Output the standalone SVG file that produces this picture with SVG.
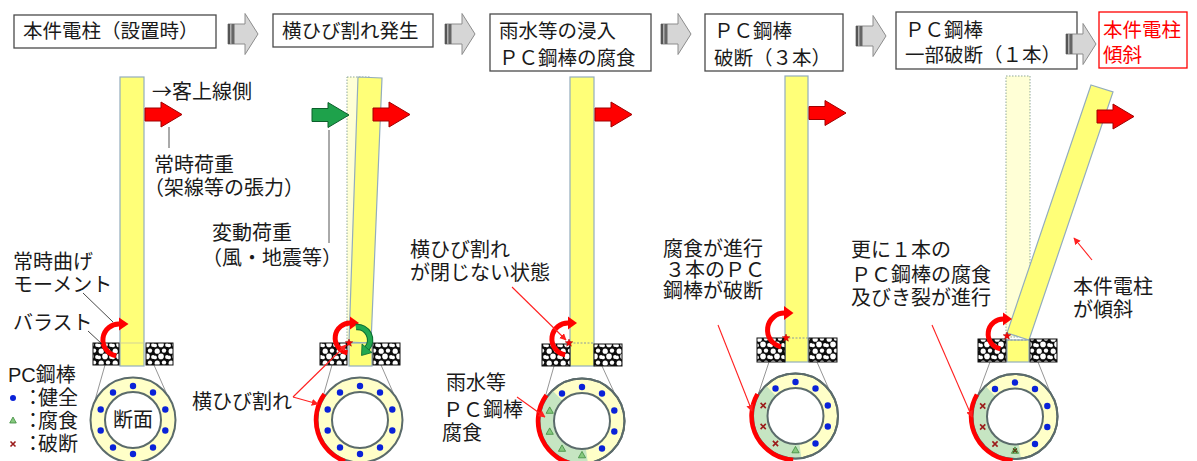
<svg xmlns="http://www.w3.org/2000/svg" xmlns:xlink="http://www.w3.org/1999/xlink" width="1197" height="461" viewBox="0 0 1197 461">
  <style>
    .t { font-family: "Noto Sans CJK JP", "Noto Sans CJK SC", sans-serif; font-size: 20px; fill: #1a1a1a; }
    .h { font-size: 19.5px; }
    .red { fill: #ff0000; }
    .box { fill: #ffffff; stroke: #4a4a4a; stroke-width: 1.3; }
    .pole { fill: #ffff78; stroke: #93adbd; stroke-width: 1.2; }
    .ghost { fill: #ffffd6; stroke: #8fa89a; stroke-width: 1; stroke-dasharray: 1.5 1.5; }
    .ballast { fill: url(#gravel); stroke: #111; stroke-width: 1; }
    .guide { stroke: #7a7a7a; stroke-width: 0.8; fill: none; }
    .ring { fill: #ffffc8; stroke: #5b6b6b; stroke-width: 2; }
    .hole { fill: #ffffff; stroke: #5b6b6b; stroke-width: 2; }
    .wet { fill: #c6e5c2; }
    .dot { fill: #0a22d8; }
    .tri { fill: #86c97e; stroke: #3e8a3e; stroke-width: 0.8; }
    .brk { stroke: #9b1b1b; stroke-width: 1.6; fill: none; }
    .crackArc { fill: none; stroke: #ff0000; stroke-width: 4.5; }
    .moment { fill: none; stroke: #ff0000; stroke-width: 5; }
    .leader { stroke: #ff2020; stroke-width: 1.1; fill: none; }
    .crack { stroke: #8a9aa0; stroke-width: 1; stroke-dasharray: 2 1.5; }
  </style>
  <defs>
    <pattern id="gravel" width="14" height="12" patternUnits="userSpaceOnUse">
      <rect width="14" height="12" fill="#0d0d0d"/>
      <circle cx="3.2" cy="3.2" r="2.6" fill="#fff"/>
      <circle cx="10" cy="2.6" r="2.2" fill="#fff"/>
      <circle cx="7" cy="8.4" r="2.8" fill="#fff"/>
      <circle cx="1" cy="9.4" r="1.9" fill="#fff"/>
      <circle cx="13" cy="9" r="1.9" fill="#fff"/>
    </pattern>
    <!-- grey step arrow used between header boxes -->
    <g id="stepArrow">
      <polygon points="0,-10 17,-10 17,-20.5 30,0 17,20.5 17,10 0,10" fill="#d6d6d6" stroke="#8c8c8c" stroke-width="1"/>
      <rect x="0" y="-10" width="2" height="20" fill="#555"/>
      <rect x="2.5" y="-10" width="1.5" height="20" fill="#8a8a8a"/>
      <rect x="4" y="-10" width="2.5" height="20" fill="#666"/>
    </g>
    <!-- load arrows -->
    <polygon id="loadArrow" points="0,-6.5 16,-6.5 16,-12.5 37,0 16,12.5 16,6.5 0,6.5"/>
    <polygon id="star" points="0,-4 1,-1.4 3.8,-1.2 1.6,0.5 2.4,3.2 0,1.7 -2.4,3.2 -1.6,0.5 -3.8,-1.2 -1,-1.4" fill="#ff0000" stroke="#a00000" stroke-width="0.5"/>
    <circle id="d" r="3.2" class="dot"/>
    <polygon id="tr" points="0,-3.6 3.6,2.8 -3.6,2.8" class="tri"/>
    <path id="x" d="M-2.6-2.6L2.6 2.6M2.6-2.6L-2.6 2.6" class="brk"/>
    <marker id="rh" viewBox="0 0 10 10" refX="9" refY="5" markerWidth="7" markerHeight="7" orient="auto" markerUnits="userSpaceOnUse">
      <path d="M0,0 L10,5 L0,10 Z" fill="#ff2020"/>
    </marker>
  </defs>

  <!-- header flow -->
  <g id="step1">
    <rect class="box" x="14" y="15" width="202" height="33"/>
    <text class="t h" x="23" y="38">本件電柱（設置時）</text>
  </g>
  <g id="step2">
    <rect class="box" x="273" y="14" width="160" height="33"/>
    <text class="t h" x="282" y="38">横ひび割れ発生</text>
  </g>
  <g id="step3">
    <rect class="box" x="490" y="14" width="161" height="57"/>
    <text class="t h" x="499" y="38">雨水等の浸入</text>
    <text class="t h" x="499" y="65">ＰＣ鋼棒の腐食</text>
  </g>
  <g id="step4">
    <rect class="box" x="705" y="14" width="138" height="57"/>
    <text class="t h" x="714" y="38">ＰＣ鋼棒</text>
    <text class="t h" x="714" y="65">破断（３本）</text>
  </g>
  <g id="step5">
    <rect class="box" x="896" y="12" width="181" height="57"/>
    <text class="t h" x="905" y="37">ＰＣ鋼棒</text>
    <text class="t h" x="905" y="62">一部破断（１本）</text>
  </g>
  <g id="step6">
    <rect class="box" x="1099" y="12" width="88" height="56" style="stroke:#ff0000"/>
    <text class="t h red" x="1103" y="37">本件電柱</text>
    <text class="t h red" x="1103" y="62">傾斜</text>
  </g>
  <g id="connectors">
    <use xlink:href="#stepArrow" x="228" y="34"/>
    <use xlink:href="#stepArrow" x="445" y="34"/>
    <use xlink:href="#stepArrow" x="661" y="34"/>
    <use xlink:href="#stepArrow" x="856" y="36"/>
    <use xlink:href="#stepArrow" x="1066" y="44"/>
  </g>

  <!-- panel 1: pole as installed -->
  <g id="pole1">
    <line class="guide" x1="105" y1="365" x2="94.5" y2="402"/>
    <line class="guide" x1="154" y1="365" x2="174.9" y2="412.6"/>
    <rect class="pole" x="120" y="77" width="24" height="289"/>
    <line x1="120" y1="343" x2="144" y2="343" stroke="#c8c8a0" stroke-width="0.8"/>
    <rect class="ballast" x="93" y="343" width="26" height="22"/>
    <rect class="ballast" x="146" y="343" width="27" height="22"/>
    <use xlink:href="#loadArrow" x="145" y="114.5" fill="#ff0000" stroke="#a00000" stroke-width="1"/>
    <line x1="169" y1="127" x2="169" y2="148" stroke="#555" stroke-width="1"/>
    <path class="moment" d="M116.2 355.8 A16 16 0 0 1 120.4 324.1"/>
    <polygon points="119,317.5 119,330.5 128.5,324" fill="#ff0000"/>
    <line x1="83" y1="293" x2="113" y2="322" stroke="#333" stroke-width="0.9"/>
    <line x1="88" y1="331" x2="102" y2="344" stroke="#333" stroke-width="0.9"/>
    <g transform="translate(133,420)">
      <circle class="ring" r="42.5"/>
      <circle class="hole" r="28"/>
      <use xlink:href="#d" x="0" y="-34"/><use xlink:href="#d" x="20" y="-27.5"/>
      <use xlink:href="#d" x="32.3" y="-10.5"/><use xlink:href="#d" x="32.3" y="10.5"/>
      <use xlink:href="#d" x="20" y="27.5"/><use xlink:href="#d" x="0" y="34"/>
      <use xlink:href="#d" x="-20" y="27.5"/><use xlink:href="#d" x="-32.3" y="10.5"/>
      <use xlink:href="#d" x="-32.3" y="-10.5"/><use xlink:href="#d" x="-20" y="-27.5"/>
      <text class="t" x="0" y="7" text-anchor="middle">断面</text>
    </g>
    <text class="t" x="152" y="99">→客上線側</text>
    <text class="t" x="154" y="172">常時荷重</text>
    <text class="t" x="144" y="195">（架線等の張力）</text>
    <text class="t" x="13" y="269">常時曲げ</text>
    <text class="t" x="13" y="292">モーメント</text>
    <text class="t" x="13" y="330">バラスト</text>
  </g>

  <!-- legend -->
  <g id="legend">
    <text class="t" x="8" y="382" style="font-family:'Liberation Sans','Noto Sans CJK JP',sans-serif">PC<tspan style="font-family:'Noto Sans CJK JP',sans-serif">鋼棒</tspan></text>
    <circle cx="13" cy="398" r="3" class="dot"/>
    <text class="t" y="405"><tspan x="23">：</tspan><tspan x="38">健全</tspan></text>
    <polygon points="13,417 16.3,423 9.7,423" class="tri"/>
    <text class="t" y="428"><tspan x="23">：</tspan><tspan x="38">腐食</tspan></text>
    <path d="M10.5 441.5L15.5 446.5M15.5 441.5L10.5 446.5" class="brk"/>
    <text class="t" y="451"><tspan x="23">：</tspan><tspan x="38">破断</tspan></text>
  </g>

  <!-- panel 2: horizontal crack -->
  <g id="pole2">
    <line class="guide" x1="332" y1="365" x2="321.5" y2="402"/>
    <line class="guide" x1="381" y1="365" x2="401.9" y2="412.6"/>
    <rect class="ghost" x="347" y="77" width="24" height="266"/>
    <polygon class="pole" points="358,77 382,78 371,343 349,342"/>
    <rect class="pole" x="349" y="343" width="23" height="23"/>
    <rect class="ballast" x="320" y="343" width="27" height="22"/>
    <rect class="ballast" x="373" y="343" width="27" height="22"/>
    <use xlink:href="#loadArrow" x="312" y="115" fill="#1ea24b" stroke="#0b5f2b" stroke-width="1"/>
    <use xlink:href="#loadArrow" x="373" y="114.5" fill="#ff0000" stroke="#a00000" stroke-width="1"/>
    <line x1="329" y1="130" x2="329" y2="243" stroke="#555" stroke-width="1"/>
    <path class="moment" d="M347.4 352.8 A15 15 0 0 1 351.3 323.1"/>
    <polygon points="350,316.5 350,329.5 359,323" fill="#ff0000"/>
    <path d="M355.9 327 A13 13 0 0 1 367 348.4" fill="none" stroke="#0b6b30" stroke-width="6.5"/>
    <path d="M355.9 327 A13 13 0 0 1 367 348.4" fill="none" stroke="#22a84f" stroke-width="4.5"/>
    <polygon points="372,352.5 362,344 361.5,355.5" fill="#22a84f" stroke="#0b6b30" stroke-width="0.8"/>
    <use xlink:href="#star" x="349" y="343"/>
    <g transform="translate(360,420)">
      <circle class="ring" r="42.5"/>
      <circle class="hole" r="28"/>
      <use xlink:href="#d" x="0" y="-34"/><use xlink:href="#d" x="20" y="-27.5"/>
      <use xlink:href="#d" x="32.3" y="-10.5"/><use xlink:href="#d" x="32.3" y="10.5"/>
      <use xlink:href="#d" x="20" y="27.5"/><use xlink:href="#d" x="0" y="34"/>
      <use xlink:href="#d" x="-20" y="27.5"/><use xlink:href="#d" x="-32.3" y="10.5"/>
      <use xlink:href="#d" x="-32.3" y="-10.5"/><use xlink:href="#d" x="-20" y="-27.5"/>
      <path class="crackArc" d="M-35.6 -25.9 A44 44 0 0 0 -15 41.3"/>
    </g>
    <line class="leader" x1="293" y1="397" x2="346" y2="345" marker-end="url(#rh)"/>
    <line class="leader" x1="293" y1="397" x2="318" y2="404" marker-end="url(#rh)"/>
    <text class="t" x="212" y="240">変動荷重</text>
    <text class="t" x="202" y="265">（風・地震等）</text>
    <text class="t" x="192" y="409">横ひび割れ</text>
  </g>

  <!-- panel 3: rainwater ingress, corrosion -->
  <g id="pole3">
    <line class="guide" x1="554" y1="366" x2="543.5" y2="403"/>
    <line class="guide" x1="602" y1="366" x2="623.9" y2="413.6"/>
    <rect class="pole" x="570" y="77" width="24" height="289"/>
    <line class="crack" x1="570" y1="343" x2="594" y2="343"/>
    <rect class="ballast" x="542" y="344" width="28" height="22"/>
    <rect class="ballast" x="594" y="344" width="28" height="22"/>
    <use xlink:href="#loadArrow" x="595" y="114.5" fill="#ff0000" stroke="#a00000" stroke-width="1"/>
    <path class="moment" d="M565.2 354.8 A16 16 0 0 1 569.4 323.1"/>
    <polygon points="568,316.5 568,329.5 577,323" fill="#ff0000"/>
    <use xlink:href="#star" x="569" y="343"/>
    <g transform="translate(582,421)">
      <circle class="ring" r="42.5"/>
      <path class="wet" d="M5.9 42.1 A42.5 42.5 0 0 1 -29.5 -30.6 L-19.5 -20.1 A28 28 0 0 0 3.9 27.7 Z"/>
      <circle r="42.5" fill="none" stroke="#5b6b6b" stroke-width="2"/>
      <circle class="hole" r="28"/>
      <use xlink:href="#d" x="0" y="-34"/><use xlink:href="#d" x="20" y="-27.5"/>
      <use xlink:href="#d" x="32.3" y="-10.5"/><use xlink:href="#d" x="32.3" y="10.5"/>
      <use xlink:href="#d" x="20" y="27.5"/><use xlink:href="#tr" x="0" y="34"/>
      <use xlink:href="#tr" x="-20" y="27.5"/><use xlink:href="#tr" x="-32.3" y="10.5"/>
      <use xlink:href="#tr" x="-32.3" y="-10.5"/><use xlink:href="#d" x="-20" y="-27.5"/>
      <path class="crackArc" d="M-35.6 -25.9 A44 44 0 0 0 -2.3 43.9"/>
    </g>
    <line class="leader" x1="512" y1="287" x2="566" y2="340" marker-end="url(#rh)"/>
    <line class="leader" x1="517" y1="397" x2="545" y2="417" marker-end="url(#rh)"/>
    <text class="t" x="410" y="257">横ひび割れ</text>
    <text class="t" x="410" y="280">が閉じない状態</text>
    <text class="t" x="446" y="390">雨水等</text>
    <text class="t" x="443" y="417">ＰＣ鋼棒</text>
    <text class="t" x="442" y="440">腐食</text>
  </g>

  <!-- panel 4: three PC bars broken -->
  <g id="pole4">
    <line class="guide" x1="769" y1="362" x2="757" y2="398"/>
    <line class="guide" x1="817" y1="362" x2="837.4" y2="408.6"/>
    <rect class="pole" x="785" y="76" width="23" height="286"/>
    <line class="crack" x1="785" y1="338" x2="808" y2="338"/>
    <rect class="ballast" x="757" y="338" width="28" height="24"/>
    <rect class="ballast" x="809" y="338" width="28" height="24"/>
    <use xlink:href="#loadArrow" x="809" y="113" fill="#ff0000" stroke="#a00000" stroke-width="1"/>
    <path class="moment" d="M781 346.7 A17 17 0 0 1 785.5 313.1"/>
    <polygon points="784,306 784,320 793.5,313" fill="#ff0000"/>
    <use xlink:href="#star" x="786" y="338"/>
    <g transform="translate(795.5,416)">
      <circle class="ring" r="42.5"/>
      <path class="wet" d="M5.9 42.1 A42.5 42.5 0 0 1 -29.5 -30.6 L-19.5 -20.1 A28 28 0 0 0 3.9 27.7 Z"/>
      <circle r="42.5" fill="none" stroke="#5b6b6b" stroke-width="2"/>
      <circle class="hole" r="28"/>
      <use xlink:href="#d" x="0" y="-34"/><use xlink:href="#d" x="20" y="-27.5"/>
      <use xlink:href="#d" x="32.3" y="-10.5"/><use xlink:href="#d" x="32.3" y="10.5"/>
      <use xlink:href="#d" x="20" y="27.5"/><use xlink:href="#tr" x="0" y="34"/>
      <use xlink:href="#x" x="-20" y="27.5"/><use xlink:href="#x" x="-32.3" y="10.5"/>
      <use xlink:href="#x" x="-32.3" y="-10.5"/><use xlink:href="#d" x="-20" y="-27.5"/>
      <path class="crackArc" d="M-38.1 -22 A44 44 0 0 0 -2.3 43.9"/>
    </g>
    <line class="leader" x1="718" y1="325" x2="752" y2="411" marker-end="url(#rh)"/>
    <text class="t" x="663" y="256">腐食が進行</text>
    <text class="t" x="665" y="277">３本のＰＣ</text>
    <text class="t" x="663" y="298">鋼棒が破断</text>
  </g>

  <!-- panel 5: pole tilted -->
  <g id="pole5">
    <line class="guide" x1="990" y1="362" x2="976.5" y2="398.5"/>
    <line class="guide" x1="1038" y1="362" x2="1056.9" y2="409.1"/>
    <rect class="ghost" x="1006" y="76" width="24" height="261"/>
    <polygon class="pole" points="1091,85 1113,92 1029,340 1007,333"/>
    <rect class="pole" x="1007" y="340" width="22" height="22"/>
    <line class="crack" x1="1007" y1="340" x2="1029" y2="340"/>
    <rect class="ballast" x="978" y="339" width="28" height="23"/>
    <rect class="ballast" x="1030" y="339" width="27" height="23"/>
    <use xlink:href="#loadArrow" x="1097" y="116.5" fill="#ff0000" stroke="#a00000" stroke-width="1"/>
    <path class="moment" d="M1000.4 348.8 A15 15 0 0 1 1004.3 319.1"/>
    <polygon points="1003,312.5 1003,325.5 1012,319" fill="#ff0000"/>
    <use xlink:href="#star" x="1007" y="336"/>
    <g transform="translate(1015,416.5)">
      <circle class="ring" r="42.5"/>
      <path class="wet" d="M5.9 42.1 A42.5 42.5 0 0 1 -29.5 -30.6 L-19.5 -20.1 A28 28 0 0 0 3.9 27.7 Z"/>
      <circle r="42.5" fill="none" stroke="#5b6b6b" stroke-width="2"/>
      <circle class="hole" r="28"/>
      <use xlink:href="#d" x="0" y="-34"/><use xlink:href="#d" x="20" y="-27.5"/>
      <use xlink:href="#d" x="32.3" y="-10.5"/><use xlink:href="#d" x="32.3" y="10.5"/>
      <use xlink:href="#d" x="20" y="27.5"/>
      <use xlink:href="#tr" x="0" y="34"/>
      <path d="M-2 32L2 36M2 32L-2 36" stroke="#5a3a10" stroke-width="1.2"/>
      <use xlink:href="#x" x="-20" y="27.5"/><use xlink:href="#x" x="-32.3" y="10.5"/>
      <use xlink:href="#x" x="-32.3" y="-10.5"/><use xlink:href="#d" x="-20" y="-27.5"/>
      <path class="crackArc" d="M-38.1 -22 A44 44 0 0 0 -2.3 43.9"/>
    </g>
    <line class="leader" x1="932" y1="325" x2="972" y2="417" marker-end="url(#rh)"/>
    <line class="leader" x1="1092" y1="260" x2="1074" y2="238" marker-end="url(#rh)"/>
    <text class="t" x="851" y="257">更に１本の</text>
    <text class="t" x="851" y="282">ＰＣ鋼棒の腐食</text>
    <text class="t" x="851" y="305">及びき裂が進行</text>
    <text class="t" x="1073" y="294">本件電柱</text>
    <text class="t" x="1073" y="317">が傾斜</text>
  </g>
</svg>
